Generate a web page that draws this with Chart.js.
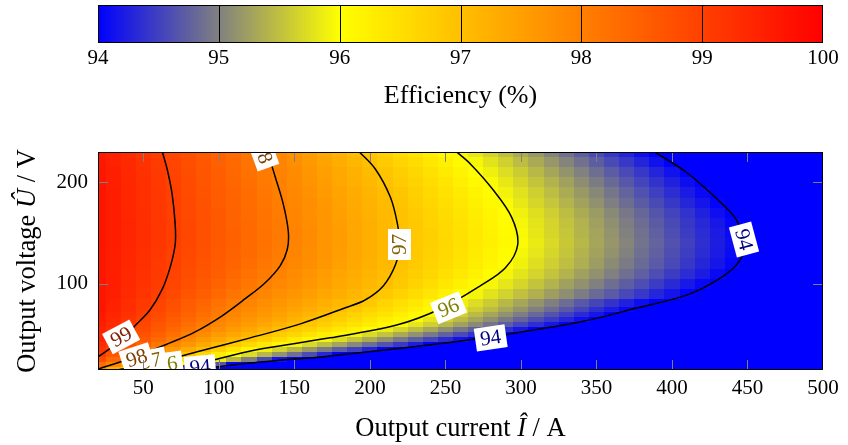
<!DOCTYPE html>
<html>
<head>
<meta charset="utf-8">
<script src="https://cdn.jsdelivr.net/npm/chart.js@4.4.1/dist/chart.umd.min.js"></script>
<style>
  html, body { margin: 0; padding: 0; background: #fff; }
  #wrap { position: relative; width: 848px; height: 445px; }
  #bar { position: absolute; left: 0; top: 0; }
  #map { position: absolute; left: 0; top: 112px; }
</style>
</head>
<body>
<div id="wrap">
  <canvas id="bar" width="848" height="112"></canvas>
  <canvas id="map" width="848" height="333"></canvas>
</div>
<script>
// Converter efficiency map: columns are output current (A), rows output voltage (V)
const currents = [20, 30, 40, 50, 60, 70, 80, 90, 100, 110, 120, 130, 140, 150, 160, 170, 180, 190, 200,
  210, 220, 230, 240, 250, 260, 270, 280, 290, 300, 310, 320, 330, 340, 350, 360, 370, 380, 390, 400,
  410, 420, 430, 440, 450, 460, 470, 480, 490, 500];
const voltages = [15, 20, 25, 30, 35, 40, 45, 50, 55, 60, 65, 70, 75, 80, 90, 100, 110, 120, 130, 140,
  150, 160, 170, 180, 190, 200, 210, 220, 230];

// efficiency in %, one row per voltage
const efficiency = [
  [97.96, 97.25, 96.76, 96.40, 96.04, 95.11, 94.10, 93.2, 92.4, 91.7, 91.0, 90.4, 89.9, 89.4, 88.9, 88.5, 88.1, 87.7, 87.3, 87.0, 86.7, 86.4, 86.1, 85.8, 85.5, 85.3, 85.0, 84.8, 84.6, 84.4, 84.2, 84.0, 83.8, 83.6, 83.4, 83.2, 83.0, 82.9, 82.7, 82.5, 82.4, 82.2, 82.1, 81.9, 81.8, 81.6, 81.5, 81.4, 81.2],
  [98.30, 97.92, 97.46, 97.00, 96.67, 96.34, 96.00, 95.36, 94.69, 94.03, 93.4, 92.8, 92.3, 91.8, 91.3, 90.9, 90.5, 90.1, 89.8, 89.5, 89.2, 88.9, 88.6, 88.3, 88.1, 87.8, 87.6, 87.4, 87.2, 87.0, 86.8, 86.6, 86.4, 86.2, 86.0, 85.9, 85.7, 85.5, 85.4, 85.2, 85.1, 84.9, 84.8, 84.6, 84.5, 84.4, 84.2, 84.1, 84.0],
  [98.80, 98.37, 97.94, 97.57, 97.19, 96.85, 96.53, 96.21, 95.85, 95.42, 95.00, 94.58, 94.15, 93.8, 93.4, 93.0, 92.6, 92.2, 91.9, 91.6, 91.3, 91.0, 90.7, 90.4, 90.2, 89.9, 89.7, 89.5, 89.3, 89.1, 88.9, 88.7, 88.5, 88.3, 88.1, 88.0, 87.8, 87.6, 87.5, 87.3, 87.2, 87.0, 86.9, 86.7, 86.6, 86.5, 86.3, 86.2, 86.1],
  [99.07, 98.69, 98.31, 97.93, 97.60, 97.26, 96.94, 96.63, 96.32, 96.02, 95.73, 95.44, 95.16, 94.87, 94.59, 94.30, 94.01, 93.7, 93.4, 93.1, 92.8, 92.5, 92.3, 92.0, 91.8, 91.5, 91.3, 91.1, 90.9, 90.7, 90.5, 90.3, 90.1, 89.9, 89.8, 89.6, 89.4, 89.3, 89.1, 89.0, 88.8, 88.7, 88.5, 88.4, 88.3, 88.1, 88.0, 87.9, 87.8],
  [99.22, 98.89, 98.55, 98.21, 97.90, 97.60, 97.31, 97.02, 96.73, 96.44, 96.14, 95.88, 95.65, 95.42, 95.18, 94.95, 94.72, 94.49, 94.26, 94.02, 93.8, 93.5, 93.3, 93.0, 92.8, 92.6, 92.4, 92.2, 92.0, 91.8, 91.6, 91.4, 91.2, 91.1, 90.9, 90.7, 90.6, 90.4, 90.3, 90.1, 90.0, 89.9, 89.7, 89.6, 89.5, 89.3, 89.2, 89.1, 89.0],
  [99.33, 99.04, 98.74, 98.44, 98.14, 97.87, 97.61, 97.35, 97.09, 96.85, 96.61, 96.37, 96.14, 95.91, 95.70, 95.49, 95.28, 95.07, 94.86, 94.65, 94.44, 94.23, 94.02, 93.8, 93.6, 93.4, 93.2, 93.0, 92.8, 92.6, 92.4, 92.3, 92.1, 91.9, 91.8, 91.6, 91.5, 91.3, 91.2, 91.0, 90.9, 90.8, 90.6, 90.5, 90.4, 90.3, 90.1, 90.0, 89.9],
  [99.43, 99.16, 98.89, 98.62, 98.34, 98.07, 97.83, 97.60, 97.38, 97.15, 96.93, 96.73, 96.53, 96.33, 96.13, 95.93, 95.73, 95.53, 95.33, 95.13, 94.93, 94.73, 94.53, 94.33, 94.13, 93.9, 93.7, 93.5, 93.3, 93.1, 92.9, 92.8, 92.6, 92.4, 92.3, 92.1, 92.0, 91.8, 91.7, 91.5, 91.4, 91.3, 91.1, 91.0, 90.9, 90.8, 90.6, 90.5, 90.4],
  [99.45, 99.21, 98.97, 98.73, 98.49, 98.25, 98.01, 97.80, 97.59, 97.39, 97.18, 96.98, 96.80, 96.62, 96.45, 96.27, 96.09, 95.91, 95.72, 95.53, 95.33, 95.14, 94.95, 94.76, 94.57, 94.38, 94.19, 93.99, 93.8, 93.6, 93.4, 93.2, 93.1, 92.9, 92.7, 92.6, 92.4, 92.3, 92.1, 92.0, 91.9, 91.7, 91.6, 91.5, 91.4, 91.2, 91.1, 91.0, 90.9],
  [99.49, 99.27, 99.05, 98.82, 98.60, 98.38, 98.16, 97.94, 97.76, 97.57, 97.39, 97.20, 97.01, 96.85, 96.69, 96.53, 96.36, 96.20, 96.04, 95.86, 95.67, 95.48, 95.29, 95.11, 94.92, 94.73, 94.55, 94.36, 94.17, 93.99, 93.8, 93.6, 93.5, 93.3, 93.1, 93.0, 92.8, 92.7, 92.5, 92.4, 92.3, 92.1, 92.0, 91.9, 91.8, 91.6, 91.5, 91.4, 91.3],
  [99.54, 99.33, 99.11, 98.90, 98.69, 98.48, 98.27, 98.06, 97.88, 97.71, 97.54, 97.38, 97.21, 97.05, 96.89, 96.74, 96.59, 96.44, 96.29, 96.14, 95.98, 95.80, 95.62, 95.44, 95.26, 95.08, 94.90, 94.72, 94.53, 94.35, 94.17, 93.99, 93.8, 93.7, 93.5, 93.3, 93.2, 93.0, 92.9, 92.7, 92.6, 92.5, 92.3, 92.2, 92.1, 92.0, 91.8, 91.7, 91.6],
  [99.58, 99.37, 99.17, 98.97, 98.77, 98.57, 98.37, 98.17, 97.97, 97.82, 97.66, 97.51, 97.35, 97.19, 97.04, 96.88, 96.73, 96.58, 96.43, 96.27, 96.12, 95.97, 95.80, 95.63, 95.46, 95.29, 95.12, 94.95, 94.78, 94.61, 94.45, 94.28, 94.11, 93.9, 93.8, 93.6, 93.4, 93.3, 93.1, 93.0, 92.9, 92.7, 92.6, 92.5, 92.3, 92.2, 92.1, 92.0, 91.9],
  [99.61, 99.42, 99.23, 99.03, 98.84, 98.65, 98.45, 98.26, 98.07, 97.91, 97.76, 97.61, 97.47, 97.32, 97.17, 97.03, 96.87, 96.72, 96.57, 96.42, 96.26, 96.11, 95.95, 95.79, 95.63, 95.46, 95.30, 95.14, 94.98, 94.81, 94.65, 94.49, 94.33, 94.16, 94.00, 93.8, 93.7, 93.5, 93.4, 93.2, 93.1, 93.0, 92.8, 92.7, 92.6, 92.5, 92.3, 92.2, 92.1],
  [99.66, 99.47, 99.28, 99.09, 98.90, 98.72, 98.53, 98.34, 98.15, 97.97, 97.84, 97.70, 97.56, 97.43, 97.29, 97.15, 97.02, 96.86, 96.71, 96.56, 96.40, 96.25, 96.09, 95.94, 95.78, 95.62, 95.47, 95.31, 95.16, 95.00, 94.84, 94.69, 94.53, 94.37, 94.21, 94.06, 93.9, 93.8, 93.6, 93.5, 93.3, 93.2, 93.1, 92.9, 92.8, 92.7, 92.6, 92.4, 92.3],
  [99.66, 99.48, 99.30, 99.12, 98.94, 98.76, 98.58, 98.41, 98.23, 98.05, 97.91, 97.78, 97.65, 97.52, 97.39, 97.26, 97.13, 97.00, 96.84, 96.68, 96.52, 96.36, 96.19, 96.03, 95.88, 95.73, 95.59, 95.44, 95.29, 95.14, 94.99, 94.84, 94.69, 94.54, 94.40, 94.25, 94.10, 93.9, 93.8, 93.6, 93.5, 93.4, 93.2, 93.1, 93.0, 92.8, 92.7, 92.6, 92.5],
  [99.67, 99.51, 99.34, 99.18, 99.01, 98.85, 98.68, 98.52, 98.35, 98.19, 98.02, 97.89, 97.77, 97.65, 97.52, 97.40, 97.27, 97.15, 97.02, 96.87, 96.71, 96.55, 96.39, 96.22, 96.06, 95.92, 95.78, 95.65, 95.51, 95.38, 95.24, 95.11, 94.97, 94.83, 94.70, 94.56, 94.43, 94.29, 94.16, 94.02, 93.9, 93.7, 93.6, 93.5, 93.3, 93.2, 93.1, 93.0, 92.8],
  [99.66, 99.51, 99.36, 99.21, 99.06, 98.91, 98.75, 98.60, 98.45, 98.30, 98.15, 98.00, 97.87, 97.75, 97.62, 97.50, 97.37, 97.25, 97.12, 97.00, 96.84, 96.69, 96.54, 96.38, 96.23, 96.08, 95.93, 95.80, 95.67, 95.53, 95.40, 95.26, 95.13, 95.00, 94.86, 94.73, 94.60, 94.46, 94.33, 94.19, 94.06, 93.9, 93.8, 93.7, 93.5, 93.4, 93.3, 93.2, 93.0],
  [99.66, 99.52, 99.38, 99.23, 99.09, 98.95, 98.80, 98.66, 98.52, 98.37, 98.23, 98.09, 97.95, 97.82, 97.69, 97.56, 97.43, 97.30, 97.17, 97.05, 96.91, 96.77, 96.63, 96.48, 96.34, 96.20, 96.06, 95.92, 95.79, 95.66, 95.53, 95.40, 95.26, 95.13, 95.00, 94.87, 94.74, 94.60, 94.47, 94.34, 94.21, 94.07, 93.9, 93.8, 93.7, 93.6, 93.4, 93.3, 93.2],
  [99.66, 99.52, 99.39, 99.25, 99.11, 98.98, 98.84, 98.70, 98.57, 98.43, 98.29, 98.15, 98.02, 97.89, 97.75, 97.62, 97.49, 97.36, 97.23, 97.09, 96.96, 96.83, 96.69, 96.56, 96.42, 96.29, 96.15, 96.02, 95.89, 95.75, 95.62, 95.49, 95.36, 95.23, 95.09, 94.96, 94.83, 94.70, 94.57, 94.44, 94.30, 94.17, 94.04, 93.9, 93.8, 93.6, 93.5, 93.4, 93.3],
  [99.67, 99.53, 99.40, 99.27, 99.13, 99.00, 98.86, 98.73, 98.59, 98.46, 98.33, 98.19, 98.06, 97.92, 97.79, 97.65, 97.52, 97.38, 97.25, 97.11, 96.98, 96.85, 96.72, 96.59, 96.46, 96.32, 96.19, 96.06, 95.93, 95.80, 95.67, 95.54, 95.40, 95.27, 95.14, 95.01, 94.87, 94.74, 94.61, 94.48, 94.34, 94.21, 94.08, 93.9, 93.8, 93.7, 93.6, 93.4, 93.3],
  [99.69, 99.55, 99.42, 99.28, 99.15, 99.01, 98.88, 98.75, 98.61, 98.48, 98.34, 98.21, 98.07, 97.94, 97.80, 97.67, 97.53, 97.40, 97.26, 97.13, 96.99, 96.87, 96.74, 96.61, 96.48, 96.35, 96.23, 96.10, 95.97, 95.84, 95.70, 95.57, 95.44, 95.30, 95.17, 95.04, 94.90, 94.77, 94.64, 94.50, 94.37, 94.23, 94.10, 93.9, 93.8, 93.7, 93.6, 93.5, 93.3],
  [99.68, 99.55, 99.42, 99.28, 99.15, 99.01, 98.88, 98.75, 98.61, 98.48, 98.35, 98.21, 98.08, 97.94, 97.81, 97.67, 97.53, 97.40, 97.26, 97.12, 96.99, 96.86, 96.73, 96.60, 96.47, 96.34, 96.21, 96.08, 95.95, 95.81, 95.68, 95.55, 95.41, 95.28, 95.15, 95.01, 94.88, 94.74, 94.61, 94.47, 94.34, 94.21, 94.07, 93.9, 93.8, 93.7, 93.5, 93.4, 93.3],
  [99.69, 99.55, 99.42, 99.28, 99.15, 99.01, 98.88, 98.74, 98.61, 98.47, 98.34, 98.20, 98.07, 97.93, 97.79, 97.66, 97.52, 97.38, 97.25, 97.11, 96.98, 96.84, 96.71, 96.58, 96.45, 96.32, 96.19, 96.06, 95.93, 95.79, 95.66, 95.52, 95.39, 95.25, 95.12, 94.98, 94.85, 94.71, 94.58, 94.44, 94.31, 94.18, 94.04, 93.9, 93.8, 93.6, 93.5, 93.4, 93.3],
  [99.69, 99.55, 99.41, 99.28, 99.14, 99.00, 98.87, 98.73, 98.60, 98.46, 98.32, 98.19, 98.05, 97.91, 97.78, 97.64, 97.50, 97.36, 97.22, 97.09, 96.95, 96.82, 96.69, 96.55, 96.42, 96.29, 96.16, 96.03, 95.89, 95.75, 95.62, 95.48, 95.34, 95.21, 95.07, 94.93, 94.80, 94.66, 94.52, 94.39, 94.25, 94.11, 93.9, 93.8, 93.7, 93.5, 93.4, 93.3, 93.2],
  [99.68, 99.55, 99.41, 99.27, 99.13, 99.00, 98.86, 98.72, 98.58, 98.45, 98.31, 98.17, 98.03, 97.89, 97.76, 97.62, 97.48, 97.34, 97.20, 97.06, 96.92, 96.79, 96.65, 96.51, 96.38, 96.24, 96.10, 95.96, 95.82, 95.68, 95.55, 95.41, 95.27, 95.13, 94.99, 94.85, 94.71, 94.58, 94.44, 94.30, 94.16, 94.03, 93.9, 93.7, 93.6, 93.5, 93.3, 93.2, 93.1],
  [99.68, 99.54, 99.40, 99.26, 99.12, 98.98, 98.84, 98.70, 98.57, 98.43, 98.29, 98.15, 98.01, 97.87, 97.73, 97.59, 97.45, 97.31, 97.17, 97.03, 96.89, 96.74, 96.60, 96.46, 96.32, 96.18, 96.04, 95.90, 95.76, 95.62, 95.48, 95.34, 95.20, 95.06, 94.92, 94.77, 94.63, 94.49, 94.35, 94.21, 94.07, 93.9, 93.8, 93.7, 93.5, 93.4, 93.3, 93.2, 93.0],
  [99.67, 99.53, 99.39, 99.25, 99.11, 98.96, 98.82, 98.68, 98.54, 98.40, 98.26, 98.12, 97.98, 97.83, 97.69, 97.55, 97.40, 97.26, 97.12, 96.98, 96.83, 96.69, 96.54, 96.40, 96.25, 96.11, 95.96, 95.82, 95.68, 95.53, 95.39, 95.25, 95.10, 94.96, 94.82, 94.67, 94.53, 94.39, 94.25, 94.10, 93.9, 93.8, 93.7, 93.5, 93.4, 93.3, 93.2, 93.0, 92.9],
  [99.66, 99.52, 99.37, 99.23, 99.09, 98.95, 98.80, 98.66, 98.52, 98.38, 98.23, 98.09, 97.95, 97.80, 97.65, 97.51, 97.36, 97.22, 97.07, 96.92, 96.77, 96.62, 96.47, 96.32, 96.17, 96.02, 95.88, 95.73, 95.59, 95.44, 95.30, 95.15, 95.01, 94.86, 94.72, 94.57, 94.43, 94.28, 94.14, 93.9, 93.8, 93.7, 93.5, 93.4, 93.3, 93.1, 93.0, 92.9, 92.8],
  [99.64, 99.49, 99.35, 99.21, 99.06, 98.92, 98.78, 98.63, 98.49, 98.35, 98.20, 98.06, 97.91, 97.76, 97.60, 97.45, 97.29, 97.14, 96.99, 96.83, 96.68, 96.53, 96.38, 96.23, 96.08, 95.93, 95.78, 95.63, 95.48, 95.33, 95.18, 95.03, 94.88, 94.73, 94.58, 94.43, 94.28, 94.13, 93.9, 93.8, 93.7, 93.5, 93.4, 93.3, 93.1, 93.0, 92.9, 92.8, 92.7],
  [99.61, 99.47, 99.32, 99.18, 99.04, 98.89, 98.75, 98.61, 98.46, 98.32, 98.18, 98.03, 97.87, 97.71, 97.54, 97.37, 97.21, 97.04, 96.89, 96.73, 96.57, 96.42, 96.26, 96.11, 95.95, 95.80, 95.65, 95.49, 95.34, 95.19, 95.03, 94.88, 94.73, 94.57, 94.42, 94.27, 94.11, 93.9, 93.8, 93.6, 93.5, 93.4, 93.2, 93.1, 93.0, 92.9, 92.7, 92.6, 92.5]
];

// iso-efficiency lines, [current, voltage] pairs
const contour99 = [[20, 27.9], [34.6, 43.7], [44.5, 58.6], [54.5, 74.4], [62.4, 94.2], [67.7, 116], [71.1, 138.8],
  [71.1, 158.6], [69.1, 188.3], [65.8, 213], [62.4, 231]];
const contour98 = [[20, 16], [44.5, 27.9], [67.7, 41.7], [84.3, 52.6], [102.2, 68.5], [117.5, 85.3], [130.7, 101.1],
  [140.7, 118], [145.3, 133.8], [146, 151.6], [142.7, 178.4], [137.4, 205.1], [132.1, 231]];
const contour97 = [[33.3, 15], [59.8, 22.9], [87.6, 33.8], [120.8, 46.7], [154, 60.5], [183.8, 76.4], [197.1, 84.3],
  [209, 98.2], [217, 119], [219.6, 138.8], [218.3, 158.6], [213.6, 185.3], [203.7, 213], [192.4, 231]];
const contour96 = [[61.1, 15], [87.6, 21.9], [124.1, 34.8], [173.8, 46.7], [218.3, 59.6], [246.8, 75.4], [273.3, 98.2],
  [289.9, 116], [297.9, 138.8], [293.9, 165.5], [281.3, 193.2], [266.7, 218], [256.7, 231]];
const contour94 = [[81, 15], [127.4, 22.9], [173.8, 28.9], [240.2, 39.8], [279.9, 47.7], [339.6, 62.5], [377.4, 76.4],
  [410.6, 89.3], [432.5, 106.1], [444.4, 121.9], [447.7, 138.8], [442.5, 163.5], [427.2, 187.3], [408.6, 211], [387.4, 231]];

const xTicks = [50, 100, 150, 200, 250, 300, 350, 400, 450, 500];
const yTicks = [100, 200];
const barTicks = [94, 95, 96, 97, 98, 99, 100];

// inline labels on the iso lines (drawn in this order)
const contourLabels = [
  { level: 94, i: 87.6, u: 17.9, angle: -5 },
  { level: 94, i: 280, u: 46.7, angle: -8 },
  { level: 94, i: 447.7, u: 143.7, angle: 75 },
  { level: 96, i: 65.8, u: 20.9, angle: -8 },
  { level: 96, i: 252.1, u: 76.4, angle: -22 },
  { level: 97, i: 55.1, u: 23.9, angle: -12 },
  { level: 97, i: 219.6, u: 138.8, angle: -90 },
  { level: 98, i: 45.6, u: 26.9, angle: -18 },
  { level: 98, i: 129.4, u: 228.9, angle: 70 },
  { level: 99, i: 35.3, u: 47.7, angle: -28 }
];

const FONT = "'Liberation Serif', 'Times New Roman', serif";

// blue -> grey -> yellow -> red
const colorStops = [[94, [0, 0, 255]], [95, [128, 128, 128]], [96, [255, 255, 0]], [100, [255, 0, 0]]];

function levelColor(v, k = 1) {
  const first = colorStops[0], last = colorStops[colorStops.length - 1];
  let c = v <= first[0] ? first[1] : last[1];
  for (let s = 0; s < colorStops.length - 1; s++) {
    const [a, ca] = colorStops[s], [b, cb] = colorStops[s + 1];
    if (v >= a && v <= b) {
      const t = (v - a) / (b - a);
      c = ca.map((x, n) => x + (cb[n] - x) * t);
      break;
    }
  }
  return `rgb(${c.map(x => Math.round(x * k)).join(',')})`;
}

function cellEdges(vals, i) {
  const lo = i > 0 ? (vals[i - 1] + vals[i]) / 2 : vals[0] - (vals[1] - vals[0]) / 2;
  const hi = i < vals.length - 1 ? (vals[i] + vals[i + 1]) / 2 : vals[i] + (vals[i] - vals[i - 1]) / 2;
  return [lo, hi];
}

const heatmapPlugin = {
  id: 'heatmap',
  beforeDatasetsDraw(chart) {
    const { ctx, chartArea: a, scales: { x, y } } = chart;
    ctx.save();
    ctx.beginPath();
    ctx.rect(a.left, a.top, a.width, a.height);
    ctx.clip();
    efficiency.forEach((row, j) => {
      const [u0, u1] = cellEdges(voltages, j);
      const top = Math.round(y.getPixelForValue(u1));
      const bottom = Math.round(y.getPixelForValue(u0));
      row.forEach((v, i) => {
        const [i0, i1] = cellEdges(currents, i);
        const left = Math.round(x.getPixelForValue(i0));
        const right = Math.round(x.getPixelForValue(i1));
        ctx.fillStyle = levelColor(v);
        ctx.fillRect(left, top, right - left, bottom - top);
      });
    });
    ctx.restore();
  }
};

function drawRichText(ctx, parts, size) {
  let total = 0;
  parts.forEach(p => {
    ctx.font = `${p.italic ? 'italic ' : ''}${size}px ${FONT}`;
    p.w = ctx.measureText(p.text).width;
    total += p.w;
  });
  let x = -total / 2;
  ctx.textAlign = 'left';
  ctx.textBaseline = 'middle';
  ctx.fillStyle = '#000';
  parts.forEach(p => {
    ctx.font = `${p.italic ? 'italic ' : ''}${size}px ${FONT}`;
    ctx.fillText(p.text, x, 0);
    x += p.w;
  });
}

const overlayPlugin = {
  id: 'overlay',
  afterDatasetsDraw(chart) {
    const { ctx, chartArea: a, scales: { x, y } } = chart;

    // labels in white boxes, clipped to the plot
    ctx.save();
    ctx.beginPath();
    ctx.rect(a.left, a.top, a.width, a.height);
    ctx.clip();
    ctx.font = `21px ${FONT}`;
    ctx.textAlign = 'center';
    ctx.textBaseline = 'middle';
    contourLabels.forEach(l => {
      const text = String(l.level);
      const w = ctx.measureText(text).width + 10, h = 23;
      ctx.save();
      ctx.translate(x.getPixelForValue(l.i), y.getPixelForValue(l.u));
      ctx.rotate(l.angle * Math.PI / 180);
      ctx.fillStyle = '#fff';
      ctx.fillRect(-w / 2, -h / 2, w, h);
      ctx.fillStyle = levelColor(l.level, 0.5);
      ctx.fillText(text, 0, 1);
      ctx.restore();
    });
    ctx.restore();

    // inward tick marks on all four sides
    ctx.save();
    ctx.strokeStyle = '#808080';
    ctx.lineWidth = 1;
    ctx.beginPath();
    xTicks.forEach(v => {
      const px = Math.round(x.getPixelForValue(v)) + 0.5;
      if (px > a.right - 1) return;
      ctx.moveTo(px, a.bottom); ctx.lineTo(px, a.bottom - 10);
      ctx.moveTo(px, a.top); ctx.lineTo(px, a.top + 10);
    });
    yTicks.forEach(v => {
      const py = Math.round(y.getPixelForValue(v)) + 0.5;
      ctx.moveTo(a.left, py); ctx.lineTo(a.left + 10, py);
      ctx.moveTo(a.right, py); ctx.lineTo(a.right - 10, py);
    });
    ctx.stroke();
    ctx.strokeStyle = '#000';
    ctx.strokeRect(a.left + 0.5, a.top + 0.5, a.width - 1, a.height - 1);
    ctx.restore();
  },
  afterDraw(chart) {
    const { ctx, chartArea: a } = chart;
    ctx.save();
    ctx.translate((a.left + a.right) / 2, 317);
    drawRichText(ctx, [{ text: 'Output current ' }, { text: 'Î', italic: true }, { text: ' / A' }], 26.5);
    ctx.restore();
    ctx.save();
    ctx.translate(28, (a.top + a.bottom) / 2);
    ctx.rotate(-Math.PI / 2);
    drawRichText(ctx, [{ text: 'Output voltage ' }, { text: 'Û', italic: true }, { text: ' / V' }], 26.5);
    ctx.restore();
  }
};

const colorbarPlugin = {
  id: 'colorbar',
  afterDraw(chart) {
    const { ctx, chartArea: a, scales: { x } } = chart;
    const v0 = colorStops[0][0], v1 = colorStops[colorStops.length - 1][0];
    const grad = ctx.createLinearGradient(x.getPixelForValue(v0), 0, x.getPixelForValue(v1), 0);
    colorStops.forEach(([v, c]) => grad.addColorStop((v - v0) / (v1 - v0), `rgb(${c.join(',')})`));
    ctx.save();
    ctx.fillStyle = grad;
    ctx.fillRect(a.left, a.top, a.width, a.height);
    ctx.strokeStyle = '#000';
    ctx.lineWidth = 1;
    ctx.beginPath();
    barTicks.slice(1, -1).forEach(v => {
      const px = Math.round(x.getPixelForValue(v)) + 0.5;
      ctx.moveTo(px, a.top); ctx.lineTo(px, a.bottom);
    });
    ctx.stroke();
    ctx.strokeRect(a.left + 0.5, a.top + 0.5, a.width - 1, a.height - 1);
    ctx.restore();
  }
};

const tickFont = { family: FONT, size: 21 };

new Chart(document.getElementById('bar'), {
  type: 'scatter',
  data: { datasets: [] },
  options: {
    responsive: false,
    animation: false,
    events: [],
    layout: { padding: { top: 5, left: 98, right: 25, bottom: 0 } },
    plugins: { legend: { display: false }, tooltip: { enabled: false } },
    scales: {
      x: {
        type: 'linear', min: 94, max: 100,
        afterBuildTicks: s => { s.ticks = barTicks.map(v => ({ value: v })); },
        afterFit: s => { s.height = 69; },
        grid: { display: false, drawTicks: false },
        border: { display: false },
        ticks: { color: '#000', font: tickFont, padding: 3, maxRotation: 0, autoSkip: false },
        title: { display: true, text: 'Efficiency (%)', color: '#000', font: { family: FONT, size: 26 }, padding: { top: 0, bottom: 0 } }
      },
      y: { display: false, min: 0, max: 1 }
    }
  },
  plugins: [colorbarPlugin]
});

const lineSets = [contour99, contour98, contour97, contour96, contour94].map(pts => ({
  data: pts.map(([i, u]) => ({ x: i, y: u })),
  showLine: true,
  borderColor: '#000',
  borderWidth: 1.5,
  pointRadius: 0,
  tension: 0.35,
  fill: false,
  clip: 0
}));

new Chart(document.getElementById('map'), {
  type: 'scatter',
  data: { datasets: lineSets },
  options: {
    responsive: false,
    animation: false,
    events: [],
    layout: { padding: { top: 40, right: 25, left: 0, bottom: 0 } },
    plugins: { legend: { display: false }, tooltip: { enabled: false } },
    scales: {
      x: {
        type: 'linear', min: 20, max: 500,
        afterBuildTicks: s => { s.ticks = xTicks.map(v => ({ value: v })); },
        afterFit: s => { s.height = 75; },
        grid: { display: false, drawTicks: false },
        border: { display: false },
        ticks: { color: '#000', font: tickFont, padding: 6, maxRotation: 0, autoSkip: false }
      },
      y: {
        type: 'linear', min: 15, max: 230,
        afterBuildTicks: s => { s.ticks = yTicks.map(v => ({ value: v })); },
        afterFit: s => { s.width = 98; },
        grid: { display: false, drawTicks: false },
        border: { display: false },
        ticks: { color: '#000', font: tickFont, padding: 10 }
      }
    }
  },
  plugins: [heatmapPlugin, overlayPlugin]
});
</script>
</body>
</html>
